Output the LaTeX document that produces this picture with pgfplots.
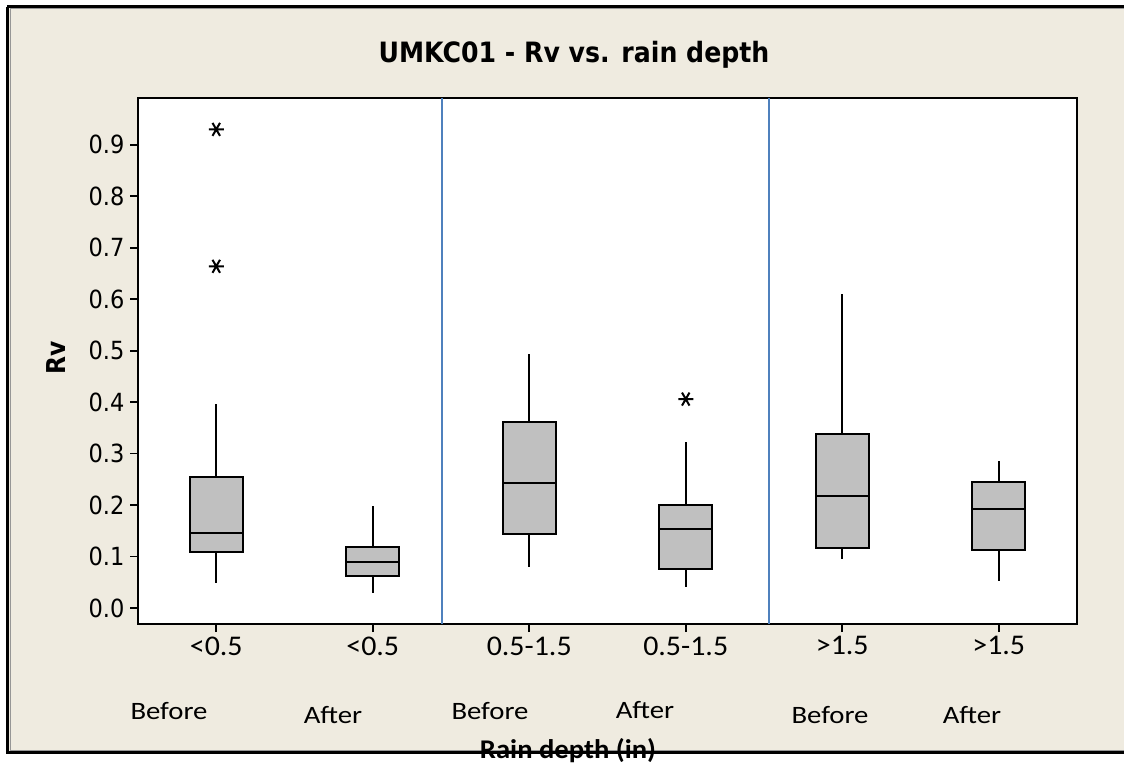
\documentclass[border=0pt]{standalone}
\usepackage{pgfplots}
\pgfplotsset{compat=1.18}
\usepgfplotslibrary{statistics}
\usepackage{fontspec}
\setmainfont{Carlito}
\newfontfamily\tahoma[FakeStretch=0.9]{DejaVu Sans}
\newfontfamily\widefont[FakeStretch=1.15]{Carlito}
\newfontfamily\tickfont[FakeStretch=1.05]{Carlito}
\newfontfamily\labfont[FakeStretch=1.06]{Carlito}
\definecolor{bg}{RGB}{239,235,224}
\definecolor{boxfill}{RGB}{192,192,192}
\definecolor{refblue}{RGB}{79,129,189}
\definecolor{framegray}{RGB}{150,150,150}

\begin{document}
\begin{tikzpicture}
\useasboundingbox (0pt,0pt) rectangle (1124pt,766pt);
\fill[white] (0pt,0pt) rectangle (1124pt,766pt);
\fill[bg] (9pt,14pt) rectangle (1124pt,758pt);
% frame (no right edge, as in the original)
\draw[framegray, line width=1pt] (10pt,757pt) -- (1124pt,757pt);
\draw[framegray, line width=1pt] (10pt,16pt) -- (10pt,757pt);
\draw[framegray, line width=1pt] (10pt,16pt) -- (1124pt,16pt);
\draw[black, line width=2.8pt] (7.3pt,759.3pt) -- (1124pt,759.3pt);
\draw[black, line width=2.8pt] (7.3pt,12.5pt) -- (7.3pt,759.3pt);
\draw[black, line width=3.2pt] (7.3pt,13.5pt) -- (1124pt,13.5pt);

\begin{axis}[
  at={(138pt,142pt)}, anchor=south west,
  scale only axis, width=939pt, height=526pt,
  xmin=0.5, xmax=6.5, ymin=-0.031, ymax=0.991,
  axis background/.style={fill=white},
  axis line style={line width=2pt},
  tick style={line width=1.6pt, black},
  major tick length=8pt, tick align=outside, tick pos=left,
  xtick={1,2,3,4,5,6},
  xticklabels={<0.5,<0.5,0.5-1.5,0.5-1.5,>1.5,>1.5},
  xticklabel style={font=\tickfont\fontsize{28.5}{32}\selectfont, yshift=-1pt},
  ytick={0,0.1,0.2,0.3,0.4,0.5,0.6,0.7,0.8,0.9},
  yticklabel style={font=\tahoma\fontsize{25}{29}\selectfont, xshift=-2pt,
    /pgf/number format/fixed, /pgf/number format/fixed zerofill,
    /pgf/number format/precision=1},
  /pgf/number format/assume math mode=true,
  boxplot/draw direction=y,
  boxplot/box extend=0.34,
  boxplot/whisker extend=0,
  boxplot/every whisker/.style={line width=1.7pt},
  boxplot/every box/.style={line width=2pt, fill=boxfill},
  boxplot/every median/.style={line width=2pt},
]
% group separators
\addplot[refblue, line width=2pt] coordinates {(2.44,-0.031) (2.44,0.991)};
\addplot[refblue, line width=2pt] coordinates {(4.53,-0.031) (4.53,0.991)};

% <0.5 before
\addplot[black, mark=asterisk, mark size=7.5pt, mark options={line width=2pt, rotate=90},
  boxplot prepared={draw position=1, lower whisker=0.048, lower quartile=0.108,
    median=0.146, upper quartile=0.254, upper whisker=0.396}]
  coordinates {(1,0.930) (1,0.664)};
% <0.5 after
\addplot[black, boxplot prepared={draw position=2, lower whisker=0.030, lower quartile=0.063,
    median=0.090, upper quartile=0.119, upper whisker=0.198}]
  coordinates {};
% 0.5-1.5 before
\addplot[black, boxplot prepared={draw position=3, lower whisker=0.079, lower quartile=0.143,
    median=0.242, upper quartile=0.362, upper whisker=0.494}]
  coordinates {};
% 0.5-1.5 after
\addplot[black, mark=asterisk, mark size=7.5pt, mark options={line width=2pt, rotate=90},
  boxplot prepared={draw position=4, lower whisker=0.041, lower quartile=0.075,
    median=0.154, upper quartile=0.200, upper whisker=0.323}]
  coordinates {(4,0.406)};
% >1.5 before
\addplot[black, boxplot prepared={draw position=5, lower whisker=0.095, lower quartile=0.116,
    median=0.218, upper quartile=0.339, upper whisker=0.610}]
  coordinates {};
% >1.5 after
\addplot[black, boxplot prepared={draw position=6, lower whisker=0.052, lower quartile=0.113,
    median=0.192, upper quartile=0.245, upper whisker=0.286}]
  coordinates {};
\end{axis}

% titles and labels
\node[anchor=base] at (574pt,703pt) {\tahoma\bfseries\fontsize{28}{32}\selectfont UMKC01 - Rv vs. rain depth};
\node[rotate=90, anchor=center] at (56pt,408pt) {\tahoma\bfseries\fontsize{26}{30}\selectfont Rv};
\begin{scope}[every node/.style={anchor=base, font=\widefont\fontsize{25}{29}\selectfont}]
\node at (169pt,47pt) {Before};
\node at (333pt,43pt) {After};
\node at (490pt,47pt) {Before};
\node at (645pt,48pt) {After};
\node at (830pt,43pt) {Before};
\node at (972pt,43pt) {After};
\end{scope}
\node[anchor=base] at (568pt,8pt) {\labfont\bfseries\fontsize{27}{31}\selectfont Rain depth (in)};
\end{tikzpicture}
\end{document}
